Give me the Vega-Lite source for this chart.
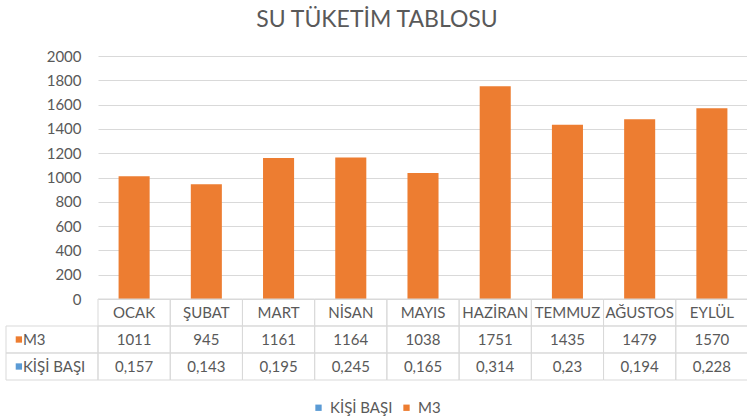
{
  "$schema": "https://vega.github.io/schema/vega-lite/v6.json",
  "background": "white",
  "padding": {"left": 5, "top": 9, "right": 0, "bottom": 0},
  "title": {"text": "SU TÜKETİM TABLOSU", "font": "Lato", "fontSize": 23, "fontWeight": "normal", "color": "#595959", "anchor": "middle", "offset": 17},
  "datasets": {
    "long": [
      {"month": "OCAK", "series": "M3", "value": 1011},
      {"month": "ŞUBAT", "series": "M3", "value": 945},
      {"month": "MART", "series": "M3", "value": 1161},
      {"month": "NİSAN", "series": "M3", "value": 1164},
      {"month": "MAYIS", "series": "M3", "value": 1038},
      {"month": "HAZİRAN", "series": "M3", "value": 1751},
      {"month": "TEMMUZ", "series": "M3", "value": 1435},
      {"month": "AĞUSTOS", "series": "M3", "value": 1479},
      {"month": "EYLÜL", "series": "M3", "value": 1570},
      {"month": "OCAK", "series": "KİŞİ BAŞI", "value": 0.157},
      {"month": "ŞUBAT", "series": "KİŞİ BAŞI", "value": 0.143},
      {"month": "MART", "series": "KİŞİ BAŞI", "value": 0.195},
      {"month": "NİSAN", "series": "KİŞİ BAŞI", "value": 0.245},
      {"month": "MAYIS", "series": "KİŞİ BAŞI", "value": 0.165},
      {"month": "HAZİRAN", "series": "KİŞİ BAŞI", "value": 0.314},
      {"month": "TEMMUZ", "series": "KİŞİ BAŞI", "value": 0.23},
      {"month": "AĞUSTOS", "series": "KİŞİ BAŞI", "value": 0.194},
      {"month": "EYLÜL", "series": "KİŞİ BAŞI", "value": 0.228}
    ],
    "rows": [{"series": "M3"}, {"series": "KİŞİ BAŞI"}]
  },
  "columns": 2,
  "spacing": 0,
  "bounds": "flush",
  "concat": [
    {
      "width": 92, "height": 243,
      "data": {"values": []},
      "mark": "point",
      "encoding": {}
    },
    {
      "width": 650, "height": 243,
      "data": {"name": "long"},
      "mark": {"type": "bar"},
      "encoding": {
        "x": {"field": "month", "type": "nominal", "sort": ["OCAK","ŞUBAT","MART","NİSAN","MAYIS","HAZİRAN","TEMMUZ","AĞUSTOS","EYLÜL"], "scale": {"paddingInner": 0.57, "paddingOuter": 0.285}, "axis": null},
        "y": {"field": "value", "type": "quantitative", "stack": null, "scale": {"domain": [0, 2000]},
              "axis": {"values": [0,200,400,600,800,1000,1200,1400,1600,1800,2000], "format": "d", "title": null, "domain": false, "ticks": false, "labelPadding": 17, "gridColor": "#d9d9d9", "labelFont": "Lato", "labelFontSize": 15, "labelColor": "#595959"}},
        "color": {"field": "series", "type": "nominal", "scale": {"domain": ["KİŞİ BAŞI", "M3"], "range": ["#5B9BD5", "#ED7D31"]},
                  "legend": {"orient": "none", "direction": "horizontal", "legendX": 305, "legendY": 344, "title": null, "symbolType": "square", "symbolSize": 40, "labelFont": "Lato", "labelFontSize": 15, "labelColor": "#595959", "columnPadding": 6, "symbolOpacity": 1}}
      }
    },
    {
      "width": 92, "height": 81,
      "data": {"name": "rows"},
      "layer": [
        {
          "mark": {"type": "rect", "fill": "white", "fillOpacity": 0, "stroke": "#d9d9d9", "strokeWidth": 1},
          "encoding": {
            "y": {"field": "series", "type": "nominal", "scale": {"domain": ["hdr", "M3", "KİŞİ BAŞI"], "paddingInner": 0, "paddingOuter": 0}, "axis": null}
          }
        },
        {
          "mark": {"type": "point", "shape": "square", "filled": true, "size": 40, "opacity": 1},
          "encoding": {
            "x": {"datum": 14, "type": "quantitative", "scale": {"domain": [0, 92]}, "axis": null},
            "y": {"field": "series", "type": "nominal", "axis": null},
            "color": {"field": "series", "type": "nominal"}
          }
        },
        {
          "mark": {"type": "text", "align": "left", "dx": 4, "font": "Lato", "fontSize": 15, "color": "#595959"},
          "encoding": {
            "x": {"datum": 14, "type": "quantitative", "axis": null},
            "y": {"field": "series", "type": "nominal", "axis": null},
            "text": {"field": "series"}
          }
        }
      ]
    },
    {
      "width": 650, "height": 81,
      "data": {"name": "long"},
      "encoding": {
        "x": {"field": "month", "type": "nominal", "sort": ["OCAK","ŞUBAT","MART","NİSAN","MAYIS","HAZİRAN","TEMMUZ","AĞUSTOS","EYLÜL"], "scale": {"paddingInner": 0, "paddingOuter": 0}, "axis": null}
      },
      "layer": [
        {
          "transform": [{"filter": "datum.series == 'M3'"}],
          "mark": {"type": "rect", "fill": "white", "fillOpacity": 0, "stroke": "#d9d9d9", "strokeWidth": 1},
          "encoding": {
            "y": {"datum": "hdr", "type": "nominal", "scale": {"domain": ["hdr", "M3", "KİŞİ BAŞI"], "paddingInner": 0, "paddingOuter": 0}, "axis": null}
          }
        },
        {
          "mark": {"type": "rect", "fill": "white", "fillOpacity": 0, "stroke": "#d9d9d9", "strokeWidth": 1},
          "encoding": {
            "y": {"field": "series", "type": "nominal", "axis": null}
          }
        },
        {
          "transform": [{"filter": "datum.series == 'M3'"}],
          "mark": {"type": "text", "font": "Lato", "fontSize": 15, "color": "#595959"},
          "encoding": {
            "y": {"datum": "hdr", "type": "nominal", "axis": null},
            "text": {"field": "month"}
          }
        },
        {
          "transform": [{"filter": "datum.series == 'M3'"}],
          "mark": {"type": "text", "font": "Lato", "fontSize": 15, "color": "#595959"},
          "encoding": {
            "y": {"field": "series", "type": "nominal", "axis": null},
            "text": {"field": "value", "type": "quantitative", "format": "d"}
          }
        },
        {
          "transform": [{"filter": "datum.series == 'KİŞİ BAŞI'"}],
          "mark": {"type": "text", "font": "Lato", "fontSize": 15, "color": "#595959"},
          "encoding": {
            "y": {"field": "series", "type": "nominal", "axis": null},
            "text": {"field": "value", "type": "quantitative", "format": ".3~f"}
          }
        }
      ]
    }
  ],
  "resolve": {"scale": {"x": "independent", "y": "independent", "color": "shared"}, "legend": {"color": "shared"}},
  "config": {
    "view": {"stroke": null},
    "locale": {"number": {"decimal": ",", "thousands": ".", "grouping": [3], "currency": ["", " TL"]}}
  }
}
